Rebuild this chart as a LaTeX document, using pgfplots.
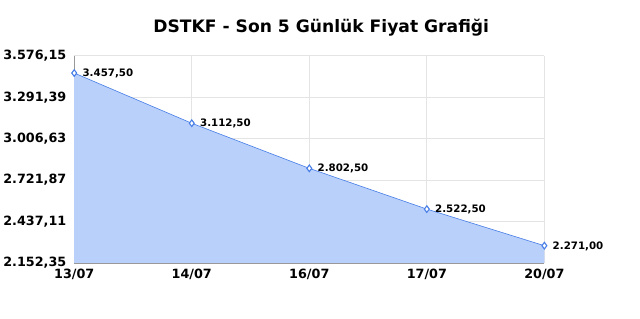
\documentclass[border=0pt]{standalone}
\usepackage{pgfplots}
\pgfplotsset{compat=1.18}
\usepackage{fontspec}
\setmainfont{DejaVu Sans}
\definecolor{fillblue}{RGB}{184,208,250}
\definecolor{lineblue}{RGB}{70,125,230}
\definecolor{gridgray}{RGB}{228,228,228}
\begin{document}
\begin{tikzpicture}[x=1pt,y=1pt]
\begin{axis}[
  scale only axis,
  width=472pt, height=208pt,
  xmin=0, xmax=4,
  ymin=2152.35, ymax=3576.15,
  xtick={0,1,2,3,4},
  xticklabels={13/07,14/07,16/07,17/07,20/07},
  ytick={2152.35,2437.11,2721.87,3006.63,3291.39,3576.15},
  yticklabels={{2.152,35},{2.437,11},{2.721,87},{3.006,63},{3.291,39},{3.576,15}},
  tick label style={font=\bfseries\fontsize{12.8}{14}\selectfont, text=black},
  xticklabel style={yshift=-3pt},
  yticklabel style={xshift=-4.5pt},
  major tick length=0pt,
  grid=major,
  major grid style={gridgray, line width=0.8pt},
  axis line style={draw=gray!80},
  axis x line*=bottom, axis y line*=left,
  title={\bfseries DSTKF - Son 5 Günlük Fiyat Grafiği},
  title style={font=\bfseries\fontsize{17.2}{19}\selectfont, yshift=10pt, xshift=12pt},
  clip=false,
]
\addplot[fill=fillblue, draw=none] table[x=x,y=y] {
x y
0 3457.50
1 3112.50
2 2802.50
3 2522.50
4 2271.00
} \closedcycle;
\addplot[lineblue, line width=0.6pt, mark=diamond*, mark size=3.3pt,
  mark options={fill=white, draw=lineblue, line width=1.1pt},
  point meta=explicit symbolic,
  nodes near coords,
  nodes near coords style={anchor=west, font=\bfseries\fontsize{10.3}{11}\selectfont, text=black, xshift=4.5pt, yshift=-0.5pt}]
 table[x=x,y=y,meta=lab] {
x y lab
0 3457.50 3.457,50
1 3112.50 3.112,50
2 2802.50 2.802,50
3 2522.50 2.522,50
4 2271.00 2.271,00
};
\path[use as bounding box] ([xshift=-72pt,yshift=-56pt]rel axis cs:0,0) rectangle ([xshift=96pt,yshift=56pt]rel axis cs:1,1);
\end{axis}
\end{tikzpicture}
\end{document}
